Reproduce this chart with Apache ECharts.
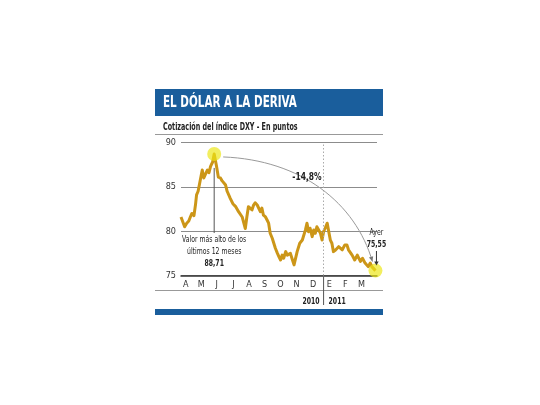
<!DOCTYPE html>
<html><head><meta charset="utf-8">
<script src="https://cdn.jsdelivr.net/npm/echarts@6/dist/echarts.min.js"></script>
<style>html,body{margin:0;padding:0;background:#fff}#c{width:540px;height:405px}</style>
</head><body><div id="c"></div>
<script>
const titleText = 'EL DÓLAR A LA DERIVA';
const subtitleText = 'Cotización del índice DXY - En puntos';
const peakNote = ['Valor más alto de los', 'últimos 12 meses'];
const lastNote = 'Ayer';
const yearLabels = ['2010', '2011'];
const yearBoundary = '2011-01-01';
const axisStart = '2010-04-01';
const axisEnd = '2011-04-14';
const yTicks = [75, 80, 85, 90];
const monthLabels = ['A','M','J','J','A','S','O','N','D','E','F','M'];
const monthLabelDates = ['2010-04-10','2010-05-10','2010-06-09','2010-07-11','2010-08-10','2010-09-09','2010-10-10','2010-11-10','2010-12-12','2011-01-12','2011-02-12','2011-03-15'];
const dates = ['2010-04-01','2010-04-08','2010-04-12','2010-04-16','2010-04-19','2010-04-22','2010-04-26','2010-04-29','2010-05-01','2010-05-04','2010-05-07','2010-05-10','2010-05-12','2010-05-15','2010-05-18','2010-05-22','2010-05-25','2010-05-28','2010-06-01','2010-06-04','2010-06-08','2010-06-12','2010-06-16','2010-06-19','2010-06-22','2010-06-26','2010-06-29','2010-07-02','2010-07-05','2010-07-10','2010-07-15','2010-07-18','2010-07-21','2010-07-28','2010-08-03','2010-08-06','2010-08-09','2010-08-12','2010-08-16','2010-08-19','2010-08-22','2010-08-26','2010-08-29','2010-09-01','2010-09-04','2010-09-07','2010-09-11','2010-09-14','2010-09-17','2010-09-20','2010-09-24','2010-09-27','2010-09-30','2010-10-04','2010-10-07','2010-10-10','2010-10-13','2010-10-16','2010-10-20','2010-10-23','2010-10-26','2010-10-29','2010-11-02','2010-11-05','2010-11-08','2010-11-11','2010-11-16','2010-11-21','2010-11-24','2010-11-27','2010-11-30','2010-12-03','2010-12-06','2010-12-10','2010-12-13','2010-12-16','2010-12-19','2010-12-22','2010-12-26','2010-12-29','2011-01-01','2011-01-04','2011-01-08','2011-01-11','2011-01-14','2011-01-17','2011-01-20','2011-01-24','2011-01-27','2011-01-30','2011-02-06','2011-02-11','2011-02-15','2011-02-18','2011-02-25','2011-03-02','2011-03-07','2011-03-13','2011-03-17','2011-03-22','2011-03-28','2011-04-01','2011-04-04','2011-04-11'];
const values = [81.6,80.5,80.9,81.15,81.6,82.0,81.75,83.0,84.1,84.5,85.4,86.3,86.9,86.0,86.4,86.9,86.6,87.3,87.8,88.71,87.5,86.1,86.0,85.7,85.85,85.2,84.5,84.5,83.7,83.1,82.8,82.9,82.2,81.6,80.3,81.6,82.76,82.6,82.4,82.95,83.2,82.95,82.76,82.2,82.6,81.8,81.6,81.26,80.9,79.76,79.2,78.64,78.07,77.5,77.1,76.75,77.3,76.95,77.7,77.3,77.1,77.5,76.75,76.2,76.0,77.69,78.64,79.0,79.2,80.14,80.9,79.94,80.33,79.38,80.14,79.76,80.5,80.33,79.76,79.0,79.94,80.33,80.9,79.94,79.0,78.64,77.69,77.88,78.07,78.25,77.9,78.45,78.45,77.9,77.3,76.75,77.3,76.6,76.95,76.4,76.0,76.4,76.0,75.55];

const F = "'Liberation Sans Narrow','DejaVu Sans Condensed','Roboto Condensed','Liberation Sans',sans-serif";
const P = d => echarts.time.parse(d).getTime();
const fmt = v => v.toFixed(2).replace('.', ',');

const data = dates.map((d, i) => [P(d), values[i]]);
const peakIdx = values.indexOf(Math.max(...values));
const lastIdx = values.length - 1;
const monthTs = monthLabelDates.map(P);
const changePct = (values[lastIdx] / values[peakIdx] - 1) * 100;

const chart = echarts.init(document.getElementById('c'), null, {renderer: 'canvas'});
chart.setOption({
  animation: false,
  backgroundColor: '#fff',
  grid: {left: 181, right: 163, top: 142.5, height: 133},
  xAxis: {
    type: 'value', min: P(axisStart), max: P(axisEnd), scale: true,
    axisLine: {show: true, lineStyle: {color: '#333', width: 1.5}},
    axisTick: {show: false},
    splitLine: {show: false},
    axisLabel: {
      customValues: monthTs,
      showMinLabel: true, showMaxLabel: true,
      color: '#333', fontSize: 9, fontFamily: F, margin: 5,
      formatter: function (v) {
        let best = 0, bd = Infinity;
        monthTs.forEach((t, i) => { const d = Math.abs(t - v); if (d < bd) { bd = d; best = i; } });
        return monthLabels[best];
      }
    }
  },
  yAxis: {
    type: 'value', min: yTicks[0], max: yTicks[yTicks.length - 1], interval: 5,
    axisLine: {show: false}, axisTick: {show: false},
    axisLabel: {color: '#333', fontSize: 9, fontFamily: F, margin: 5},
    splitLine: {lineStyle: {color: '#8c8c8c', width: 1}}
  },
  series: [
    {
      type: 'line', data: data, showSymbol: false, symbol: 'none',
      lineStyle: {color: '#cc9618', width: 3, join: 'round'},
      z: 3,
      markLine: {
        silent: true, symbol: 'none', label: {show: false},
        lineStyle: {color: '#aaa', type: [1.5, 2], width: 1},
        data: [{xAxis: P(yearBoundary)}]
      }
    },
    {
      type: 'scatter', data: [data[peakIdx], data[lastIdx]],
      symbolSize: 14, itemStyle: {color: 'rgba(236,230,20,0.85)'}, z: 5
    }
  ]
});

const pk = chart.convertToPixel({gridIndex: 0}, data[peakIdx]);
const ls = chart.convertToPixel({gridIndex: 0}, data[lastIdx]);
const jx = chart.convertToPixel({gridIndex: 0}, [P(yearBoundary), yTicks[0]]);

const ax1 = pk[0] + 9, ay1 = pk[1] + 3;
const ax2 = ls[0] - 3, ay2 = ls[1] - 9;
const c1x = pk[0] + 0.54 * (ls[0] - pk[0]), c1y = pk[1] + 6;
const c2x = ls[0] - 20, c2y = pk[1] + 0.42 * (ls[1] - pk[1]);
let dx = ax2 - c2x, dy = ay2 - c2y; const dl = Math.hypot(dx, dy); dx /= dl; dy /= dl;
const ah = 5, aw = 2.2;
const arrowPts = [[ax2, ay2], [ax2 - dx * ah - dy * aw, ay2 - dy * ah + dx * aw], [ax2 - dx * ah + dy * aw, ay2 - dy * ah - dx * aw]];

const txt = (x, y, text, size, weight, align, fill, sx) => ({
  type: 'text', x: x, y: y, z: 20, scaleX: sx || 0.72,
  style: {text: text, fill: fill || '#222', fontSize: size, fontWeight: weight || 'normal', fontFamily: F, align: align || 'left', verticalAlign: 'middle'}
});
const ln = (x1, y1, x2, y2, color, w, dash) => ({
  type: 'line', z: 15, shape: {x1: x1, y1: y1, x2: x2, y2: y2},
  style: {stroke: color, lineWidth: w || 1, lineDash: dash || null}
});

chart.setOption({
  graphic: [
    {type: 'rect', shape: {x: 155, y: 89, width: 228, height: 27}, style: {fill: '#1a5e9c'}, z: 10},
    txt(163, 103, titleText, 16.5, 'bold', 'left', '#fff', 0.7),
    txt(163, 127, subtitleText, 10, 'bold', 'left', '#222', 0.71),
    ln(155, 134.5, 383, 134.5, '#999', 1),
    ln(155, 290.5, 383, 290.5, '#999', 1),
    {type: 'rect', shape: {x: 155, y: 309, width: 228, height: 6}, style: {fill: '#1a5e9c'}, z: 10},
    ln(jx[0], 277, jx[0], 305, '#555', 1),
    txt(jx[0] - 4, 302, yearLabels[0], 9.5, 'bold', 'right'),
    txt(jx[0] + 5, 302, yearLabels[1], 9.5, 'bold', 'left'),
    ln(pk[0], pk[1] + 14, pk[0], 233, '#555', 1),
    txt(pk[0], 240, peakNote[0], 9.5, 'normal', 'center'),
    txt(pk[0], 252, peakNote[1], 9.5, 'normal', 'center'),
    txt(pk[0], 264, fmt(values[peakIdx]), 9.5, 'bold', 'center'),
    {type: 'bezierCurve', z: 15, shape: {x1: ax1, y1: ay1, cpx1: c1x, cpy1: c1y, cpx2: c2x, cpy2: c2y, x2: ax2, y2: ay2},
      style: {stroke: '#9a9a9a', lineWidth: 1, fill: null}},
    {type: 'polygon', z: 15, shape: {points: arrowPts}, style: {fill: '#777'}},
    txt(307, 177, changePct.toFixed(1).replace('.', ',') + '%', 10.5, 'bold', 'center', '#222', 0.8),
    txt(ls[0] + 1, 233, lastNote, 9.5, 'normal', 'center'),
    txt(ls[0] + 1, 245, fmt(values[lastIdx]), 9.5, 'bold', 'center'),
    ln(ls[0] + 1, 251, ls[0] + 1, ls[1] - 8, '#333', 1),
    {type: 'polygon', z: 15, shape: {points: [[ls[0] + 1, ls[1] - 5], [ls[0] - 1.2, ls[1] - 9], [ls[0] + 3.2, ls[1] - 9]]}, style: {fill: '#333'}}
  ]
});
</script></body></html>
